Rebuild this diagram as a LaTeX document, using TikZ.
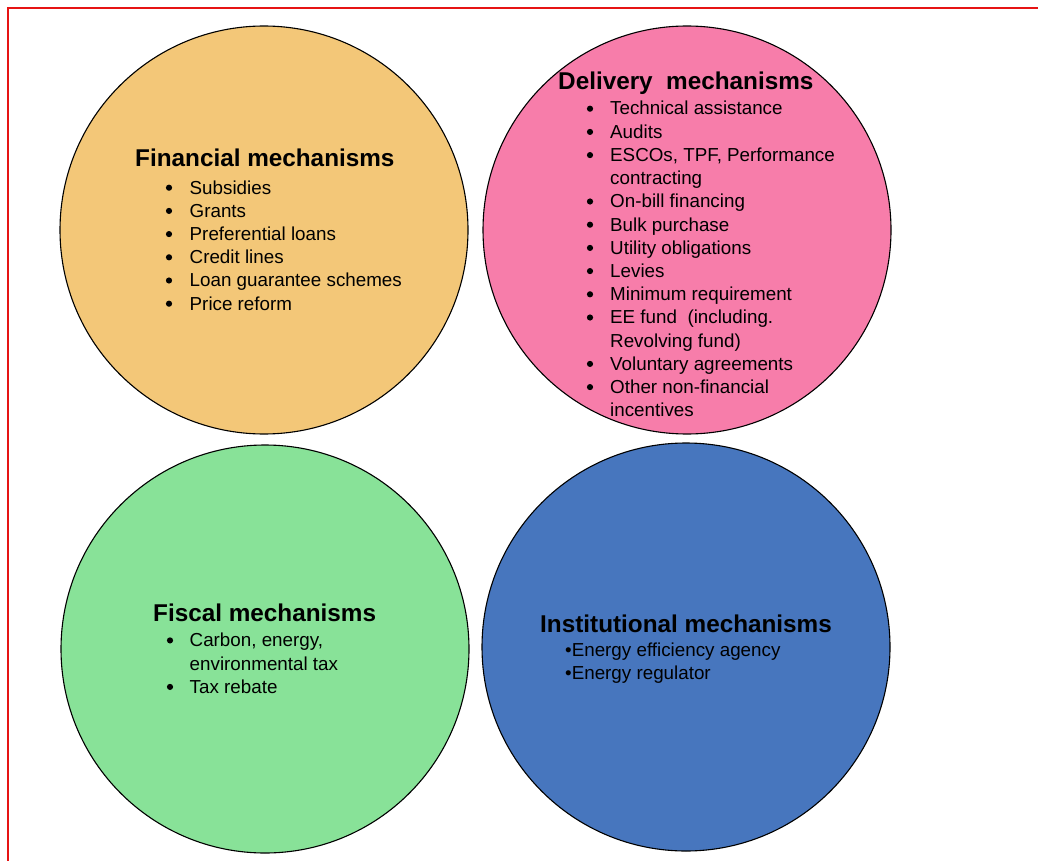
\documentclass[tikz,border=0pt]{standalone}
\usepackage{fontspec}
\setmainfont{Liberation Sans}
\definecolor{finfill}{RGB}{243,199,120}
\definecolor{delfill}{RGB}{247,125,170}
\definecolor{fisfill}{RGB}{136,226,152}
\definecolor{instfill}{RGB}{71,118,190}
\definecolor{pageedge}{RGB}{230,20,20}
\begin{document}
\begin{tikzpicture}[x=1pt,y=-1pt,
  disc/.style={circle,draw=black,line width=1.1pt,minimum size=408pt,inner sep=0pt},
  head/.style={anchor=base west,inner sep=0pt,font=\fontsize{24.3}{28}\selectfont\bfseries},
  itemtxt/.style={anchor=base west,inner sep=0pt,font=\fontsize{18.8}{23}\selectfont},
  dot/.style={circle,fill=black,inner sep=0pt,minimum size=6.2pt,yshift=6.3pt}]
\useasboundingbox (0,0) rectangle (1038,861);
% page edge
\draw[pageedge,line width=1.3pt] (8,861) -- (8,8) -- (1038,8);

% the four mechanism discs
\node[disc,fill=finfill]  (fin)  at (264,230) {};
\node[disc,fill=delfill]  (del)  at (687,230) {};
\node[disc,fill=fisfill]  (fis)  at (265,649) {};
\node[disc,fill=instfill] (inst) at (686,647) {};

% Financial mechanisms
\node[head] (finhead) at (135,167) {Financial mechanisms};
\foreach \t [count=\i] in {Subsidies,Grants,Preferential loans,Credit lines,Loan guarantee schemes,Price reform}{
  \node[dot] (findot\i) at (169,{194+23.2*(\i-1)}) {};
  \node[itemtxt] (finitem\i) at (189.5,{194+23.2*(\i-1)}) {\t};
}

% Delivery mechanisms
\node[head] (delhead) at (558,90) {Delivery\ \ mechanisms};
\foreach \t/\b [count=\i] in {Technical assistance/1,Audits/1,{ESCOs, TPF, Performance}/1,contracting/0,
  On-bill financing/1,Bulk purchase/1,Utility obligations/1,Levies/1,Minimum requirement/1,
  {EE fund\ \ (including.}/1,Revolving fund)/0,Voluntary agreements/1,Other non-financial/1,incentives/0}{
  \ifnum\b=1
    \node[dot] (deldot\i) at (590,{115+23.2*(\i-1)}) {};
  \fi
  \node[itemtxt] (delitem\i) at (610,{115+23.2*(\i-1)}) {\t};
}

% Fiscal mechanisms
\node[head] (fishead) at (153,621.7) {Fiscal mechanisms};
\node[dot] (fisdot1) at (170,646.7) {};
\node[itemtxt] (fisitem1) at (189.5,646.7) {Carbon, energy,};
\node[itemtxt] (fisitem2) at (189.5,670) {environmental tax};
\node[dot] (fisdot3) at (170,693.2) {};
\node[itemtxt] (fisitem3) at (189.5,693.2) {Tax rebate};

% Institutional mechanisms
\node[head] (insthead) at (540,632.3) {Institutional mechanisms};
\node[itemtxt] (institem1) at (565,656.5) {\textbullet Energy efficiency agency};
\node[itemtxt] (institem2) at (565,679.7) {\textbullet Energy regulator};
\end{tikzpicture}
\end{document}
